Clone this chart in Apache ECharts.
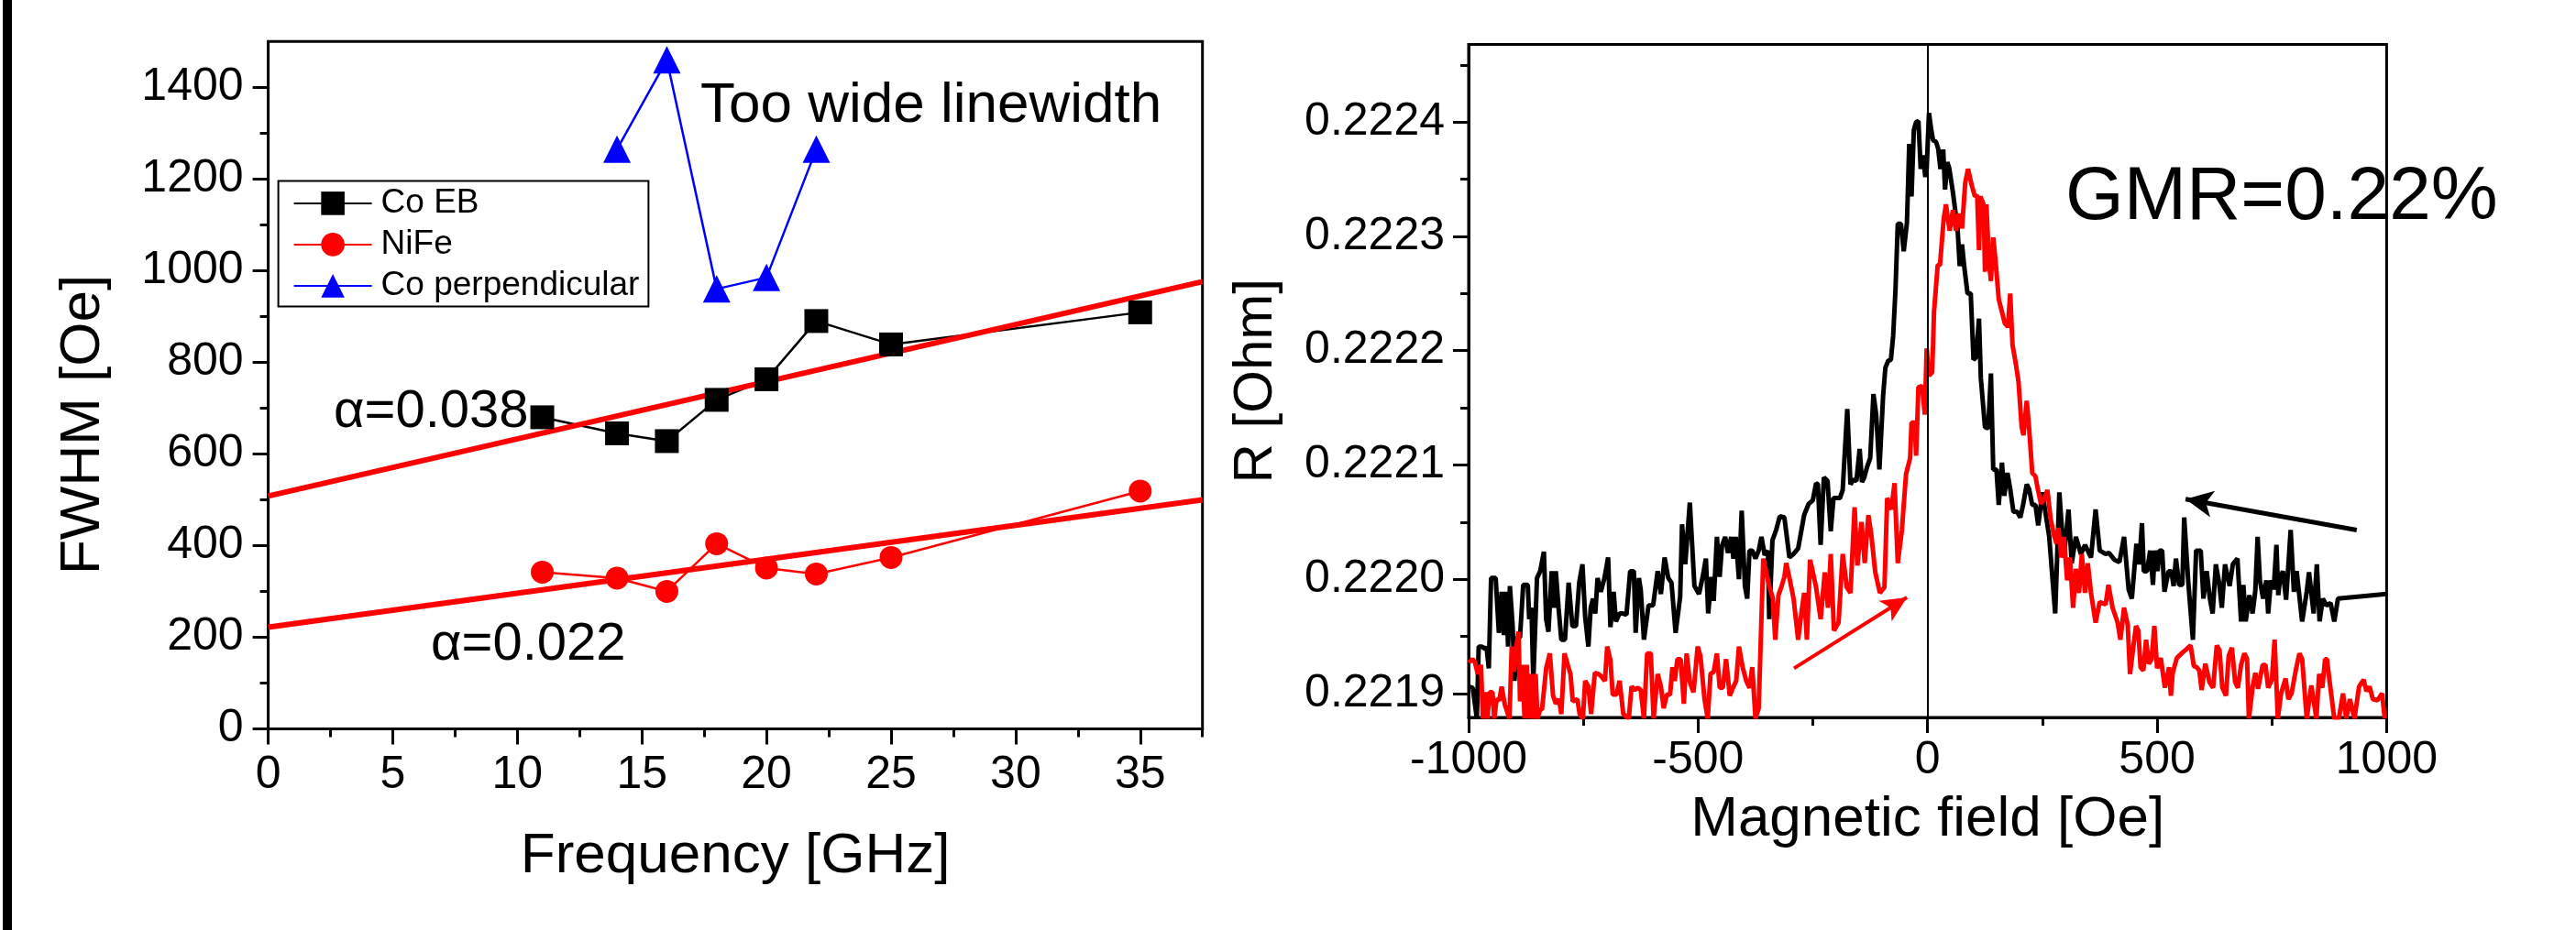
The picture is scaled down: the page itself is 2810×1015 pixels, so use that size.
<!DOCTYPE html>
<html>
<head>
<meta charset="utf-8">
<title>FWHM vs frequency and GMR field sweep</title>
<style>
  body { margin: 0; background: #ffffff; }
  #chart { width: 2810px; height: 1015px; }
</style>
</head>
<body>
<div id="chart"></div>
<script src="https://cdn.jsdelivr.net/npm/echarts@6/dist/echarts.min.js"></script>
<script>
// ---------- left panel: linewidth vs frequency ----------
var freqCoEB = [11, 14, 16, 18, 20, 22, 25, 35];
var fwhmCoEB = [680, 645, 628, 718, 763, 890, 839, 909];
var freqNiFe = [11, 14, 16, 18, 20, 22, 25, 35];
var fwhmNiFe = [342, 329, 300, 404, 351, 338, 374, 519];
var freqPerp = [14, 16, 18, 20, 22];
var fwhmPerp = [1265, 1460, 960, 985, 1265];
// straight-line fits, start and end
var fitCoEB = [[0, 508], [37.5, 976]];
var fitNiFe = [[0, 222], [37.5, 500]];

var freqTicks = [0, 5, 10, 15, 20, 25, 30, 35];
var freqMinor = [2.5, 7.5, 12.5, 17.5, 22.5, 27.5, 32.5, 37.5];
var fwhmTicks = [0, 200, 400, 600, 800, 1000, 1200, 1400];
var fwhmMinor = [100, 300, 500, 700, 900, 1100, 1300];

// ---------- right panel: resistance vs field ----------
var fieldTicks = [-1000, -500, 0, 500, 1000];
var fieldMinor = [-750, -250, 250, 750];
var rTicks = [0.2219, 0.2220, 0.2221, 0.2222, 0.2223, 0.2224];
var rMinor = [0.22195, 0.22205, 0.22215, 0.22225, 0.22235, 0.22245];

// black sweep [field Oe, R Ohm]
var sweepBlack = [
  [-1000, 0.221906], [-991, 0.221905], [-982, 0.221878], [-978, 0.221941], [-971, 0.221941],
  [-964, 0.221939], [-961, 0.221941], [-956, 0.221922], [-951, 0.222001], [-941, 0.222001],
  [-934, 0.221953], [-928, 0.221989], [-923, 0.221951], [-918, 0.221989], [-914, 0.221941],
  [-910, 0.221994], [-904, 0.221959], [-900, 0.221911], [-894, 0.221949], [-888, 0.221949],
  [-881, 0.221995], [-871, 0.221995], [-868, 0.221965], [-863, 0.221975], [-859, 0.221911],
  [-851, 0.222001], [-844, 0.222007], [-836, 0.222024], [-831, 0.221965], [-826, 0.221954],
  [-819, 0.222007], [-814, 0.221975], [-810, 0.222007], [-804, 0.221975], [-798, 0.221947],
  [-790, 0.221947], [-782, 0.221997], [-774, 0.221959], [-766, 0.221959], [-759, 0.221997],
  [-752, 0.222013], [-746, 0.221967], [-739, 0.221941], [-734, 0.221975], [-729, 0.221983],
  [-724, 0.221970], [-719, 0.222001], [-712, 0.221989], [-704, 0.222001], [-696, 0.222019],
  [-691, 0.221958], [-684, 0.221989], [-679, 0.221963], [-671, 0.221970], [-664, 0.221970],
  [-656, 0.221969], [-648, 0.222007], [-640, 0.222007], [-636, 0.221953], [-629, 0.222001],
  [-625, 0.221991], [-618, 0.221947], [-608, 0.221977], [-598, 0.221977], [-588, 0.222007],
  [-581, 0.221987], [-573, 0.222019], [-565, 0.222001], [-558, 0.221997], [-549, 0.221953],
  [-539, 0.221985], [-535, 0.222048], [-528, 0.222013], [-518, 0.222067], [-508, 0.221994],
  [-498, 0.221987], [-490, 0.222002], [-483, 0.222018], [-478, 0.221970], [-471, 0.222002],
  [-466, 0.221981], [-459, 0.222037], [-453, 0.222002], [-448, 0.222029], [-441, 0.222037],
  [-435, 0.222023], [-428, 0.222037], [-423, 0.222018], [-418, 0.222037], [-411, 0.222000],
  [-405, 0.222060], [-398, 0.221994], [-393, 0.221983], [-388, 0.222025], [-382, 0.222025],
  [-375, 0.222018], [-368, 0.222025], [-362, 0.222037], [-355, 0.222021], [-348, 0.222025],
  [-345, 0.221965], [-338, 0.222034], [-330, 0.222043], [-322, 0.222055], [-312, 0.222054],
  [-301, 0.222019], [-292, 0.222022], [-282, 0.222027], [-269, 0.222056], [-259, 0.222066],
  [-250, 0.222069], [-243, 0.222084], [-239, 0.222083], [-233, 0.222030], [-226, 0.222089],
  [-218, 0.222086], [-211, 0.222042], [-205, 0.222071], [-191, 0.222071], [-185, 0.222078],
  [-175, 0.222149], [-168, 0.222083], [-162, 0.222087], [-155, 0.222086], [-148, 0.222114],
  [-143, 0.222085], [-138, 0.222089], [-132, 0.222098], [-125, 0.222106], [-118, 0.222162],
  [-112, 0.222144], [-105, 0.222096], [-97, 0.222160], [-92, 0.222185], [-86, 0.222191],
  [-80, 0.222192], [-75, 0.222213], [-70, 0.222253], [-65, 0.222311], [-58, 0.222311],
  [-52, 0.222287], [-45, 0.222312], [-40, 0.222381], [-35, 0.222335], [-30, 0.222393],
  [-25, 0.222400], [-20, 0.222401], [-15, 0.222359], [-10, 0.222371], [-5, 0.222352],
  [-2, 0.222359], [3, 0.222408], [8, 0.222393], [12, 0.222384], [18, 0.222383],
  [23, 0.222377], [28, 0.222359], [34, 0.222376], [38, 0.222341], [43, 0.222365],
  [47, 0.222360], [55, 0.222339], [62, 0.222317], [65, 0.222309], [70, 0.222274],
  [75, 0.222293], [80, 0.222273], [87, 0.222250], [94, 0.222250], [100, 0.222192],
  [105, 0.222194], [112, 0.222228], [116, 0.222176], [125, 0.222133], [132, 0.222132],
  [138, 0.222180], [143, 0.222096], [150, 0.222096], [155, 0.222065], [162, 0.222102],
  [167, 0.222073], [174, 0.222093], [180, 0.222079], [187, 0.222059], [195, 0.222059],
  [202, 0.222054], [208, 0.222065], [216, 0.222083], [221, 0.222079], [228, 0.222065],
  [235, 0.222065], [241, 0.222047], [250, 0.222076], [265, 0.222037], [278, 0.221970],
  [287, 0.222076], [297, 0.222019], [307, 0.222061], [314, 0.222014], [323, 0.222037],
  [334, 0.222022], [343, 0.222030], [356, 0.222019], [366, 0.222061], [375, 0.222025],
  [388, 0.222022], [395, 0.222023], [407, 0.222017], [418, 0.222015], [428, 0.222037],
  [438, 0.221991], [445, 0.221983], [455, 0.222031], [461, 0.222013], [467, 0.222049],
  [471, 0.222007], [478, 0.222007], [485, 0.222025], [491, 0.221995], [495, 0.222025],
  [501, 0.222007], [505, 0.222025], [511, 0.222025], [516, 0.221989], [525, 0.222007],
  [531, 0.222007], [536, 0.221994], [541, 0.222018], [548, 0.221995], [555, 0.221995],
  [559, 0.222054], [568, 0.221997], [578, 0.221947], [585, 0.222025], [595, 0.222025],
  [601, 0.221983], [608, 0.222007], [615, 0.221983], [621, 0.221970], [628, 0.222013],
  [635, 0.221997], [641, 0.221975], [648, 0.222013], [658, 0.221994], [665, 0.222013],
  [675, 0.222018], [683, 0.221963], [688, 0.221995], [693, 0.221963], [701, 0.221986],
  [708, 0.221970], [714, 0.221990], [719, 0.222037], [724, 0.221999], [731, 0.221983],
  [738, 0.221999], [742, 0.221970], [748, 0.221999], [754, 0.221991], [760, 0.222030],
  [764, 0.221986], [768, 0.222001], [774, 0.222007], [781, 0.221982], [791, 0.222043],
  [798, 0.221989], [804, 0.222007], [816, 0.221963], [826, 0.221989], [831, 0.222006],
  [841, 0.221970], [848, 0.222013], [854, 0.221963], [861, 0.221983], [869, 0.221977],
  [878, 0.221979], [886, 0.221963], [894, 0.221983], [1000, 0.221987]
];

// red sweep [field Oe, R Ohm]
var sweepRed = [
  [-1000, 0.221927], [-991, 0.221930], [-986, 0.221927], [-980, 0.221917], [-973, 0.221925],
  [-969, 0.221878], [-964, 0.221901], [-959, 0.221878], [-954, 0.221901], [-948, 0.221901],
  [-944, 0.221878], [-939, 0.221895], [-933, 0.221894], [-928, 0.221906], [-921, 0.221890],
  [-911, 0.221878], [-906, 0.221941], [-901, 0.221919], [-896, 0.221941], [-891, 0.221954],
  [-888, 0.221893], [-883, 0.221925], [-878, 0.221878], [-873, 0.221925], [-868, 0.221878],
  [-864, 0.221917], [-859, 0.221878], [-854, 0.221917], [-850, 0.221878], [-844, 0.221886],
  [-840, 0.221886], [-831, 0.221922], [-823, 0.221935], [-816, 0.221898], [-810, 0.221891],
  [-803, 0.221895], [-798, 0.221882], [-791, 0.221935], [-784, 0.221925], [-778, 0.221917],
  [-773, 0.221893], [-768, 0.221894], [-763, 0.221895], [-758, 0.221882], [-751, 0.221878],
  [-746, 0.221911], [-739, 0.221906], [-733, 0.221882], [-725, 0.221918], [-717, 0.221917],
  [-711, 0.221915], [-703, 0.221911], [-698, 0.221941], [-691, 0.221929], [-686, 0.221899],
  [-678, 0.221899], [-671, 0.221911], [-663, 0.221882], [-651, 0.221878], [-645, 0.221906],
  [-638, 0.221903], [-631, 0.221905], [-625, 0.221903], [-618, 0.221878], [-611, 0.221935],
  [-603, 0.221935], [-597, 0.221878], [-588, 0.221917], [-581, 0.221906], [-575, 0.221887],
  [-568, 0.221899], [-561, 0.221899], [-556, 0.221923], [-551, 0.221911], [-545, 0.221930],
  [-538, 0.221930], [-531, 0.221891], [-525, 0.221935], [-518, 0.221910], [-510, 0.221901],
  [-501, 0.221941], [-495, 0.221933], [-486, 0.221895], [-479, 0.221878], [-473, 0.221917],
  [-466, 0.221919], [-459, 0.221935], [-453, 0.221905], [-446, 0.221905], [-439, 0.221930],
  [-431, 0.221898], [-423, 0.221906], [-417, 0.221911], [-411, 0.221941], [-403, 0.221923],
  [-395, 0.221911], [-388, 0.221905], [-382, 0.221923], [-375, 0.221878], [-368, 0.221887],
  [-358, 0.222018], [-352, 0.222007], [-345, 0.221994], [-337, 0.221983], [-332, 0.221947],
  [-325, 0.221986], [-318, 0.221994], [-312, 0.222002], [-308, 0.222014], [-301, 0.222001],
  [-292, 0.221983], [-282, 0.221947], [-276, 0.221967], [-269, 0.221988], [-263, 0.221947],
  [-256, 0.222017], [-250, 0.222006], [-243, 0.221993], [-233, 0.221965], [-224, 0.222006],
  [-217, 0.221975], [-211, 0.222022], [-204, 0.221955], [-194, 0.221962], [-185, 0.222022],
  [-176, 0.221993], [-168, 0.221988], [-159, 0.222063], [-153, 0.222012], [-144, 0.222050],
  [-137, 0.222014], [-129, 0.222056], [-123, 0.222040], [-114, 0.222006], [-104, 0.221988],
  [-94, 0.221993], [-88, 0.222071], [-79, 0.222061], [-72, 0.222084], [-65, 0.222014],
  [-56, 0.222043], [-47, 0.222092], [-38, 0.222106], [-35, 0.222137], [-28, 0.222137],
  [-25, 0.222108], [-20, 0.222168], [-12, 0.222169], [-6, 0.222144], [-2, 0.222202],
  [3, 0.222178], [10, 0.222181], [14, 0.222234], [22, 0.222275], [27, 0.222275],
  [35, 0.222315], [40, 0.222328], [48, 0.222305], [55, 0.222323], [62, 0.222305],
  [68, 0.222320], [75, 0.222307], [82, 0.222347], [88, 0.222359], [96, 0.222345],
  [103, 0.222335], [108, 0.222336], [112, 0.222288], [115, 0.222335], [122, 0.222328],
  [125, 0.222269], [128, 0.222328], [134, 0.222276], [138, 0.222261], [143, 0.222299],
  [148, 0.222279], [155, 0.222245], [162, 0.222234], [168, 0.222224], [175, 0.222221],
  [180, 0.222250], [185, 0.222205], [192, 0.222189], [198, 0.222173], [205, 0.222133],
  [209, 0.222126], [216, 0.222156], [221, 0.222133], [228, 0.222093], [235, 0.222090],
  [240, 0.222079], [247, 0.222066], [254, 0.222070], [261, 0.222078], [268, 0.222053],
  [275, 0.222039], [281, 0.222031], [285, 0.222045], [291, 0.222019], [297, 0.222037],
  [304, 0.221999], [310, 0.222019], [317, 0.221975], [323, 0.222009], [330, 0.221988],
  [336, 0.222022], [343, 0.221988], [349, 0.222014], [356, 0.221988], [366, 0.221962],
  [375, 0.221980], [388, 0.221978], [394, 0.221995], [403, 0.221975], [414, 0.221962],
  [420, 0.221947], [428, 0.221975], [436, 0.221960], [441, 0.221917], [448, 0.221940],
  [454, 0.221959], [459, 0.221955], [464, 0.221923], [470, 0.221920], [476, 0.221947],
  [482, 0.221926], [488, 0.221930], [494, 0.221959], [500, 0.221922], [508, 0.221931],
  [517, 0.221905], [526, 0.221923], [530, 0.221898], [534, 0.221918], [543, 0.221931],
  [556, 0.221936], [565, 0.221939], [573, 0.221942], [580, 0.221924], [586, 0.221923],
  [592, 0.221920], [597, 0.221903], [605, 0.221926], [614, 0.221910], [622, 0.221905],
  [630, 0.221942], [636, 0.221938], [642, 0.221905], [650, 0.221898], [656, 0.221933],
  [663, 0.221940], [670, 0.221910], [676, 0.221905], [683, 0.221925], [690, 0.221935],
  [696, 0.221930], [700, 0.221878], [708, 0.221905], [714, 0.221918], [720, 0.221904],
  [730, 0.221925], [736, 0.221925], [742, 0.221905], [750, 0.221912], [756, 0.221947],
  [763, 0.221878], [770, 0.221900], [780, 0.221913], [786, 0.221895], [793, 0.221900],
  [802, 0.221920], [810, 0.221935], [816, 0.221930], [826, 0.221878], [836, 0.221907],
  [847, 0.221878], [853, 0.221917], [860, 0.221905], [866, 0.221930], [870, 0.221930],
  [876, 0.221910], [886, 0.221878], [896, 0.221878], [905, 0.221900], [912, 0.221878],
  [920, 0.221895], [930, 0.221878], [940, 0.221906], [950, 0.221912], [956, 0.221902],
  [963, 0.221906], [970, 0.221895], [980, 0.221894], [990, 0.221900], [996, 0.221878]
];

// sweep direction arrows [from, to]
var arrowRed = [[-291, 0.221922], [-45, 0.221984]];
var arrowBlack = [[935, 0.222043], [562, 0.222070]];

var FONT = "'Liberation Sans', Arial, sans-serif";

function zip(xs, ys) {
  return xs.map(function (x, i) { return [x, ys[i]]; });
}

// axis helpers
function majorAxis(gridIndex, min, max, ticks, fmt, name, nameGap, margin, extra) {
  var ax = {
    gridIndex: gridIndex,
    type: 'value',
    min: min,
    max: max,
    axisLine: { show: true, onZero: false, lineStyle: { color: '#000', width: 3 } },
    axisTick: { show: true, customValues: ticks, length: 17, lineStyle: { color: '#000', width: 3 } },
    axisLabel: { show: true, customValues: ticks, formatter: fmt, margin: margin,
      color: '#000', fontSize: 50, fontFamily: FONT },
    splitLine: { show: false },
    name: name,
    nameLocation: 'middle',
    nameGap: nameGap,
    nameTextStyle: { color: '#000', fontSize: 62, fontFamily: FONT }
  };
  if (extra) {
    for (var k in extra) ax.nameTextStyle[k] = extra[k];
  }
  return ax;
}

function minorAxis(gridIndex, min, max, ticks) {
  return {
    gridIndex: gridIndex,
    type: 'value',
    min: min,
    max: max,
    axisLine: { show: false, onZero: false },
    axisTick: { show: true, customValues: ticks, length: 9, lineStyle: { color: '#000', width: 3 } },
    axisLabel: { show: false },
    splitLine: { show: false }
  };
}

var plain = function (v) { return String(v); };
var ohm = function (v) { return v.toFixed(4); };

var R_MIN = 0.221879, R_MAX = 0.222468;

var leftBox = { left: 292.6, top: 45.3, width: 1019.1, height: 750.2 };
var rightBox = { left: 1602, top: 48.5, width: 1001.4, height: 734.5 };

var option = {
  backgroundColor: '#ffffff',
  animation: false,
  textStyle: { fontFamily: FONT },
  grid: [
    Object.assign({ show: true, borderColor: '#000', borderWidth: 3 }, leftBox),
    Object.assign({ show: false }, leftBox),
    Object.assign({ show: true, borderColor: '#000', borderWidth: 3 }, rightBox),
    Object.assign({ show: false }, rightBox)
  ],
  xAxis: [
    majorAxis(0, 0, 37.5, freqTicks, plain, 'Frequency [GHz]', 108, 26),
    minorAxis(1, 0, 37.5, freqMinor),
    majorAxis(2, -1000, 1000, fieldTicks, plain, 'Magnetic field [Oe]', 81, 22),
    minorAxis(3, -1000, 1000, fieldMinor)
  ],
  yAxis: [
    majorAxis(0, 0, 1500, fwhmTicks, plain, 'FWHM [Oe]', 171, 27, { padding: [0, 86, 0, 0] }),
    minorAxis(1, 0, 1500, fwhmMinor),
    majorAxis(2, R_MIN, R_MAX, rTicks, ohm, 'R [Ohm]', 202, 26, { fontSize: 60 }),
    minorAxis(3, R_MIN, R_MAX, rMinor)
  ],
  legend: {
    data: ['Co EB', 'NiFe', 'Co perpendicular'],
    orient: 'vertical',
    left: 303.6,
    top: 197.4,
    itemWidth: 85,
    itemHeight: 32,
    itemGap: 8,
    padding: [6, 10, 4, 16],
    borderColor: '#000',
    borderWidth: 2,
    textStyle: { color: '#000', fontSize: 37, fontFamily: FONT, padding: [0, 0, 0, 5] }
  },
  series: [
    {
      name: 'Co EB', type: 'line', xAxisIndex: 0, yAxisIndex: 0,
      data: zip(freqCoEB, fwhmCoEB),
      symbol: 'rect', symbolSize: 26,
      itemStyle: { color: '#000000' },
      lineStyle: { color: '#000000', width: 2.5 }
    },
    {
      name: 'NiFe', type: 'line', xAxisIndex: 0, yAxisIndex: 0,
      data: zip(freqNiFe, fwhmNiFe),
      symbol: 'circle', symbolSize: 25,
      itemStyle: { color: '#ff0000' },
      lineStyle: { color: '#ff0000', width: 2.5 }
    },
    {
      name: 'Co perpendicular', type: 'line', xAxisIndex: 0, yAxisIndex: 0,
      data: zip(freqPerp, fwhmPerp),
      symbol: 'triangle', symbolSize: 30,
      itemStyle: { color: '#0000ff' },
      lineStyle: { color: '#0000ff', width: 2.5 }
    },
    {
      name: 'fit Co EB', type: 'line', xAxisIndex: 0, yAxisIndex: 0,
      data: fitCoEB, showSymbol: false, symbol: 'none',
      lineStyle: { color: '#ff0000', width: 6 }
    },
    {
      name: 'fit NiFe', type: 'line', xAxisIndex: 0, yAxisIndex: 0,
      data: fitNiFe, showSymbol: false, symbol: 'none',
      lineStyle: { color: '#ff0000', width: 6 }
    },
    {
      name: 'sweep black', type: 'line', xAxisIndex: 2, yAxisIndex: 2,
      data: sweepBlack, symbol: 'none',
      lineStyle: { color: '#000000', width: 5 },
      markLine: {
        silent: true,
        symbol: ['none', 'none'],
        label: { show: false },
        data: [
          { xAxis: 0, lineStyle: { color: '#000', width: 2, type: 'solid' } },
          [
            { coord: arrowBlack[0], symbol: 'none' },
            { coord: arrowBlack[1], symbol: 'arrow', symbolSize: [22, 30] }
          ]
        ],
        lineStyle: { color: '#000', width: 5, type: 'solid' }
      }
    },
    {
      name: 'sweep red', type: 'line', xAxisIndex: 2, yAxisIndex: 2,
      data: sweepRed, symbol: 'none',
      lineStyle: { color: '#ff0000', width: 5 },
      markLine: {
        silent: true,
        symbol: ['none', 'none'],
        label: { show: false },
        data: [
          [
            { coord: arrowRed[0], symbol: 'none' },
            { coord: arrowRed[1], symbol: 'arrow', symbolSize: [20, 28] }
          ]
        ],
        lineStyle: { color: '#ff0000', width: 4, type: 'solid' }
      }
    }
  ],
  graphic: [
    // frame stroke at the far left of the figure
    { type: 'rect', shape: { x: 3, y: 0, width: 10, height: 1015 }, style: { fill: '#000' } },
    { type: 'text', x: 764, y: 116, style: { text: 'Too wide linewidth', fill: '#000',
      font: '62px ' + FONT, textAlign: 'left', textVerticalAlign: 'middle' } },
    { type: 'text', x: 364, y: 450, style: { text: 'α=0.038', fill: '#000',
      font: '58px ' + FONT, textAlign: 'left', textVerticalAlign: 'middle' } },
    { type: 'text', x: 470, y: 704, style: { text: 'α=0.022', fill: '#000',
      font: '58px ' + FONT, textAlign: 'left', textVerticalAlign: 'middle' } },
    { type: 'text', x: 2253, y: 216, style: { text: 'GMR=0.22%', fill: '#000',
      font: '82px ' + FONT, textAlign: 'left', textVerticalAlign: 'middle' } }
  ]
};

var chart = echarts.init(document.getElementById('chart'));
chart.setOption(option);
</script>
</body>
</html>
